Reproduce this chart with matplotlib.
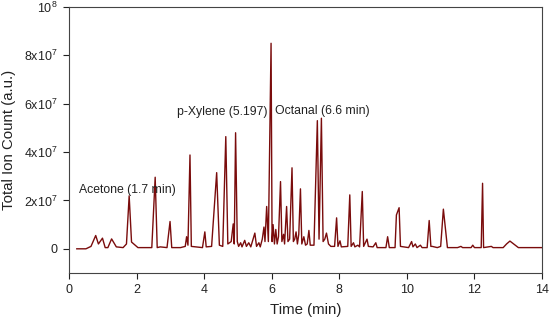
import matplotlib
matplotlib.use("Agg")
import matplotlib.pyplot as plt

plt.rcParams['font.family'] = ['Liberation Sans', 'DejaVu Sans']
plt.rcParams['mathtext.fontset'] = 'custom'
plt.rcParams['mathtext.rm'] = 'Liberation Sans'
plt.rcParams['mathtext.it'] = 'Liberation Sans'

# chromatogram trace, time in min, intensity in units of 1e7 counts
time = [0.23, 0.5, 0.65, 0.79, 0.87, 0.99, 1.07, 1.15, 1.26, 1.4, 1.6, 1.7, 1.78, 1.85,
        2.04, 2.45, 2.55, 2.61, 2.7, 2.9, 2.99, 3.04, 3.3, 3.44, 3.48, 3.52, 3.58, 3.62,
        3.95, 4.02, 4.06, 4.22, 4.37, 4.45, 4.55, 4.64, 4.7, 4.8, 4.86, 4.89, 4.93, 4.98,
        5.02, 5.08, 5.12, 5.2, 5.25, 5.32, 5.38, 5.5, 5.55, 5.62, 5.66, 5.72, 5.77, 5.8,
        5.85, 5.9, 5.98, 6.01, 6.04, 6.08, 6.12, 6.16, 6.2, 6.26, 6.3, 6.35, 6.38, 6.44,
        6.48, 6.53, 6.6, 6.64, 6.68, 6.72, 6.76, 6.8, 6.85, 6.89, 6.95, 7.0, 7.05, 7.1,
        7.14, 7.25, 7.35, 7.4, 7.47, 7.52, 7.57, 7.62, 7.68, 7.75, 7.86, 7.92, 7.96, 8.02,
        8.06, 8.25, 8.31, 8.35, 8.42, 8.46, 8.55, 8.6, 8.68, 8.72, 8.82, 8.86, 9.0, 9.08,
        9.12, 9.38, 9.43, 9.48, 9.65, 9.69, 9.77, 9.81, 10.05, 10.14, 10.18, 10.25, 10.3,
        10.4, 10.45, 10.6, 10.66, 10.71, 10.75, 10.9, 11.0, 11.08, 11.2, 11.5, 11.6, 11.65,
        11.9, 11.95, 12.0, 12.2, 12.24, 12.27, 12.5, 12.55, 12.85, 12.95, 13.05, 13.3, 14.0]
intensity = [0.0, 0.0, 0.1, 0.55, 0.2, 0.44, 0.05, 0.05, 0.41, 0.08, 0.05, 0.2, 2.19, 0.28,
             0.05, 0.05, 2.96, 0.05, 0.08, 0.05, 1.13, 0.05, 0.05, 0.1, 0.5, 0.15, 3.88, 0.1,
             0.05, 0.7, 0.08, 0.1, 3.15, 0.15, 0.1, 4.64, 0.2, 0.3, 1.03, 0.2, 4.8, 0.3,
             0.1, 0.25, 0.08, 0.35, 0.1, 0.25, 0.08, 0.65, 0.1, 0.25, 0.08, 0.4, 0.9, 0.3,
             1.75, 0.3, 8.5, 0.3, 1.0, 0.2, 0.8, 0.2, 0.5, 2.78, 0.3, 0.6, 0.2, 1.75,
             0.3, 0.4, 3.35, 0.3, 0.4, 0.7, 0.2, 0.6, 2.48, 0.2, 0.5, 0.15, 0.2, 0.76,
             0.15, 0.15, 5.3, 0.4, 5.4, 0.3, 0.4, 0.65, 0.2, 0.1, 0.1, 1.28, 0.1, 0.33,
             0.08, 0.1, 2.23, 0.1, 0.25, 0.08, 0.15, 0.08, 2.37, 0.1, 0.4, 0.1, 0.08, 0.25,
             0.05, 0.05, 0.5, 0.05, 0.05, 1.4, 1.7, 0.1, 0.05, 0.3, 0.08, 0.2, 0.05,
             0.15, 0.05, 0.05, 1.17, 0.1, 0.1, 0.05, 0.1, 1.64, 0.05, 0.05, 0.1, 0.05,
             0.05, 0.15, 0.05, 0.05, 2.71, 0.05, 0.1, 0.05, 0.05, 0.2, 0.32, 0.05, 0.05]

x_ticks = [0, 2, 4, 6, 8, 10, 12, 14]
y_ticks = [0, 2e7, 4e7, 6e7, 8e7, 1e8]
y_tick_labels = ['0', r'2x10$^7$', r'4x10$^7$', r'6x10$^7$', r'8x10$^7$', r'10$^8$']

# annotations: text, x (min), y (1e7 counts)
labels = ['Acetone (1.7 min)', 'p-Xylene (5.197)', 'Octanal (6.6 min)']
label_x = [0.30, 3.19, 6.09]
label_y = [2.31, 5.54, 5.58]

fig = plt.figure(figsize=(5.5, 3.26), dpi=100)
ax = fig.add_axes([0.1255, 0.1626, 0.86, 0.8159])

ax.plot(time, [v * 1e7 for v in intensity], color='#7a0c0c', lw=1.0)

for txt, lx, ly in zip(labels, label_x, label_y):
    ax.text(lx, ly * 1e7, txt, fontsize=8.8, va='baseline', ha='left', color='#222222')

ax.set_xlim(0, 14)
ax.set_ylim(-1e7, 1e8)
ax.set_xticks(x_ticks)
ax.set_yticks(y_ticks)
ax.set_yticklabels(y_tick_labels)
ax.tick_params(direction='out', length=4, width=0.8, labelsize=9, colors='#222222', pad=4)
ax.set_xlabel('Time (min)', fontsize=10.8, color='#222222', labelpad=5)
ax.set_ylabel('Total Ion Count (a.u.)', fontsize=10.8, color='#222222', labelpad=6)
for sp in ax.spines.values():
    sp.set_linewidth(0.8)
    sp.set_color('#444444')

fig.savefig('out.png', dpi=100)
